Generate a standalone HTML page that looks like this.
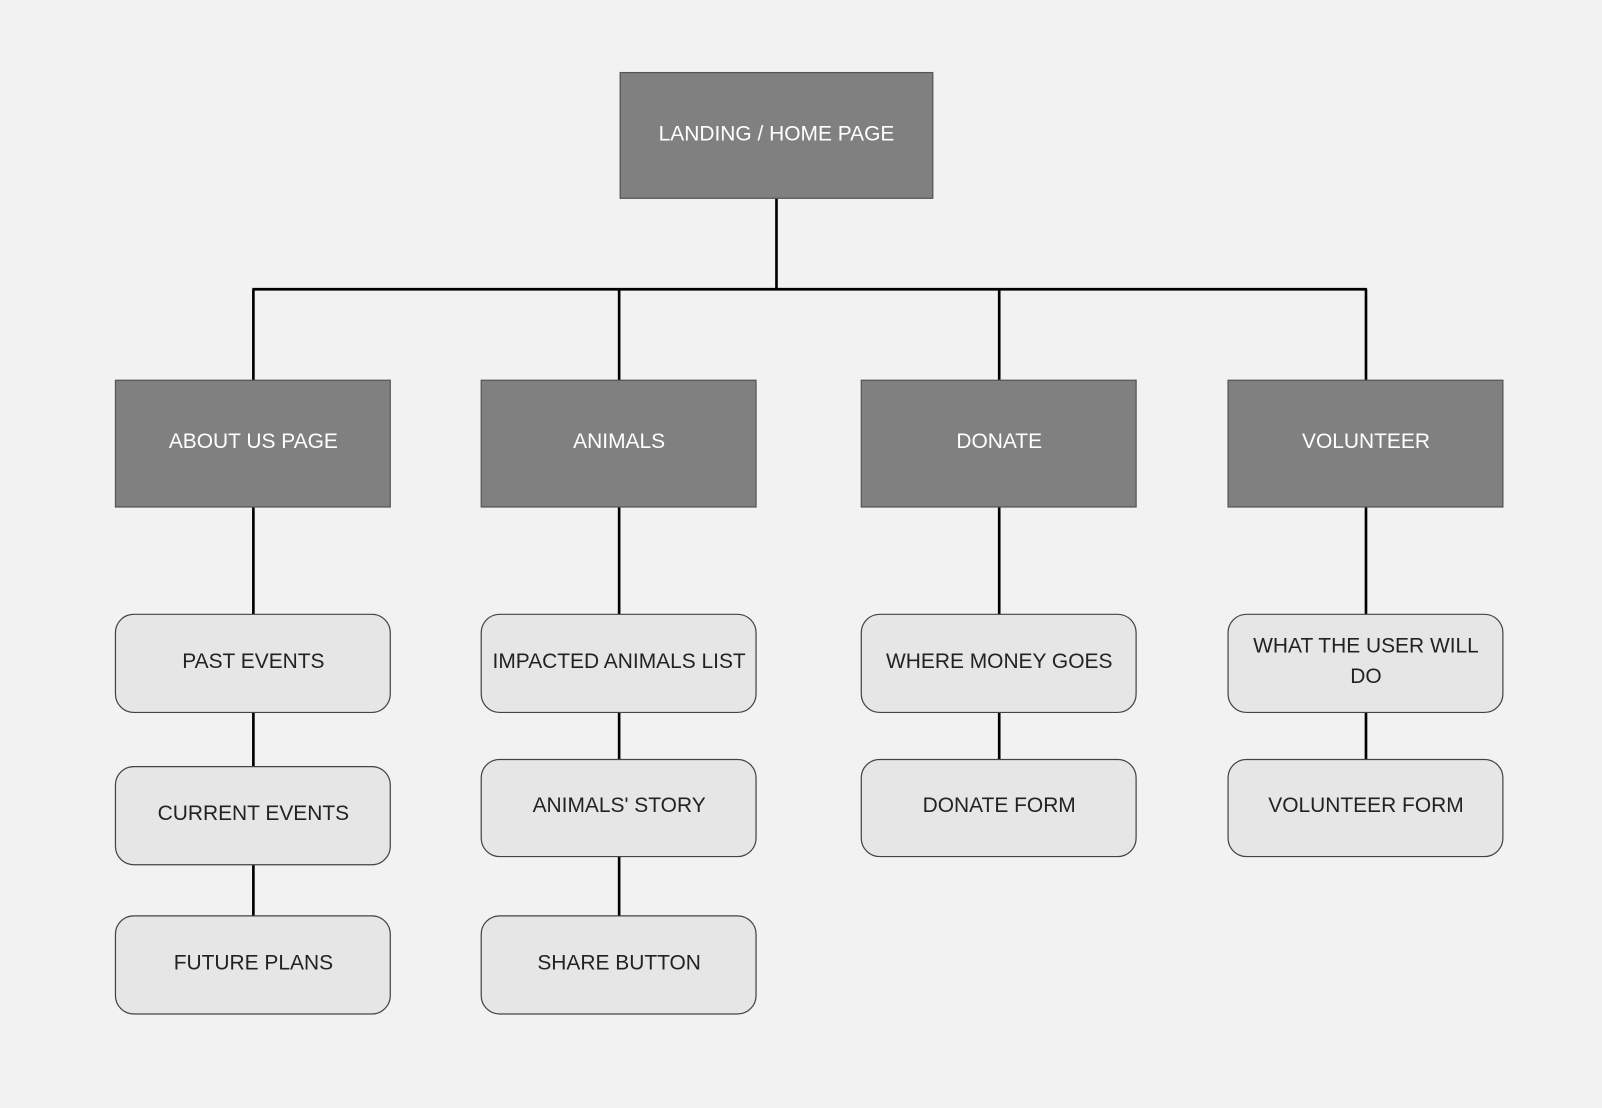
<!DOCTYPE html>
<html><head><meta charset="utf-8"><style>
html,body{margin:0;padding:0;background:#f2f2f2;}
svg{display:block;}
text{font-family:"Liberation Sans",sans-serif;font-size:20.5px;text-anchor:middle;dominant-baseline:middle;}
.d{fill:#808080;stroke:#555;stroke-width:1.2;}
.l{fill:#e6e6e6;stroke:#444;stroke-width:1.2;}
.w{fill:#fff;}
.k{fill:#222;}
line{stroke:#000;stroke-width:2.6;}
</style></head><body>
<svg width="1602" height="1108" viewBox="0 0 1568 1084" preserveAspectRatio="none">
<rect width="1568" height="1084" fill="#f2f2f2"/>
<line x1="760" y1="194" x2="760" y2="283"/>
<line x1="247" y1="283" x2="1338" y2="283"/>
<line x1="248" y1="283" x2="248" y2="372"/>
<line x1="606" y1="283" x2="606" y2="372"/>
<line x1="978" y1="283" x2="978" y2="372"/>
<line x1="1337" y1="283" x2="1337" y2="372"/>
<line x1="248" y1="496" x2="248" y2="992"/>
<line x1="606" y1="496" x2="606" y2="992"/>
<line x1="978" y1="496" x2="978" y2="838"/>
<line x1="1337" y1="496" x2="1337" y2="838"/>
<rect class="d" x="607" y="71" width="306" height="123"/><text class="w" x="760" y="132">LANDING / HOME PAGE</text>
<rect class="d" x="113" y="372" width="269" height="124"/><text class="w" x="248" y="433">ABOUT US PAGE</text>
<rect class="d" x="471" y="372" width="269" height="124"/><text class="w" x="606" y="433">ANIMALS</text>
<rect class="d" x="843" y="372" width="269" height="124"/><text class="w" x="978" y="433">DONATE</text>
<rect class="d" x="1202" y="372" width="269" height="124"/><text class="w" x="1337" y="433">VOLUNTEER</text>
<rect class="l" x="113" y="601" width="269" height="96" rx="18"/><text class="k" x="248" y="648">PAST EVENTS</text>
<rect class="l" x="113" y="750" width="269" height="96" rx="18"/><text class="k" x="248" y="797">CURRENT EVENTS</text>
<rect class="l" x="113" y="896" width="269" height="96" rx="18"/><text class="k" x="248" y="943">FUTURE PLANS</text>
<rect class="l" x="471" y="601" width="269" height="96" rx="18"/><text class="k" x="606" y="648">IMPACTED ANIMALS LIST</text>
<rect class="l" x="471" y="743" width="269" height="95" rx="18"/><text class="k" x="606" y="789">ANIMALS' STORY</text>
<rect class="l" x="471" y="896" width="269" height="96" rx="18"/><text class="k" x="606" y="943">SHARE BUTTON</text>
<rect class="l" x="843" y="601" width="269" height="96" rx="18"/><text class="k" x="978" y="648">WHERE MONEY GOES</text>
<rect class="l" x="843" y="743" width="269" height="95" rx="18"/><text class="k" x="978" y="789">DONATE FORM</text>
<rect class="l" x="1202" y="601" width="269" height="96" rx="18"/><text class="k" x="1337" y="633">WHAT THE USER WILL</text><text class="k" x="1337" y="663">DO</text>
<rect class="l" x="1202" y="743" width="269" height="95" rx="18"/><text class="k" x="1337" y="789">VOLUNTEER FORM</text>
</svg>
</body></html>
